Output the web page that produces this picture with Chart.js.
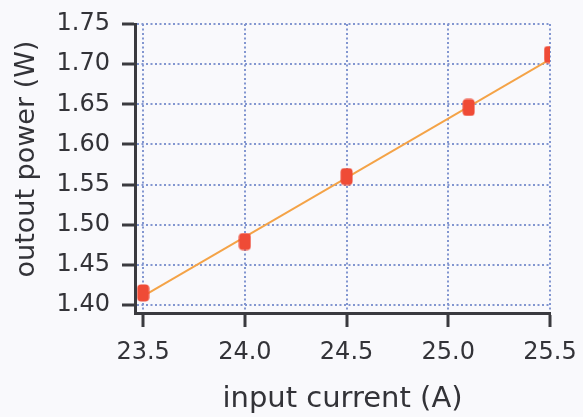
<!DOCTYPE html>
<html>
<head>
<meta charset="utf-8">
<script src="https://cdn.jsdelivr.net/npm/chart.js@4.4.1/dist/chart.umd.min.js"></script>
<style>
  html, body { margin: 0; padding: 0; background: #f9f9fc; }
  #wrap { width: 583px; height: 417px; }
</style>
</head>
<body>
<div id="wrap"><canvas id="myChart"></canvas></div>
<script>
// measured points
const current = [23.5, 24.0, 24.5, 25.1, 25.5];
const power = [1.415, 1.479, 1.560, 1.646, 1.712];

// linear fit drawn through the points
const fitCurrent = [23.5, 25.5];
const fitPower = [1.411, 1.706];

// tick labels
const xTicks = [23.5, 24.0, 24.5, 25.0, 25.5];
const yTicks = [1.40, 1.45, 1.50, 1.55, 1.60, 1.65, 1.70, 1.75];

const textColor = '#333338';
const axisColor = '#3a3a3f';
const gridColor = '#8296d0';

// marker: small rounded red block
const marker = document.createElement('canvas');
marker.width = 13;
marker.height = 18;
const mctx = marker.getContext('2d');
mctx.fillStyle = '#ef4b36';
mctx.beginPath();
mctx.roundRect(0.5, 0.5, 12, 17, 4);
mctx.fill();

// y title drawn a bit above the axis centre, like the original
const yTitle = {
  id: 'yTitle',
  afterDraw(chart) {
    const ctx = chart.ctx;
    ctx.save();
    ctx.translate(27, 159);
    ctx.rotate(-Math.PI / 2);
    ctx.fillStyle = textColor;
    ctx.font = '27px "DejaVu Sans"';
    ctx.textAlign = 'center';
    ctx.textBaseline = 'middle';
    ctx.fillText('outout power (W)', 0, 0);
    ctx.restore();
  }
};

const data = {
  datasets: [{
    label: 'measured',
    data: current.map((x, i) => ({x: x, y: power[i]})),
    pointStyle: marker,
    showLine: false,
    order: 0
  }, {
    label: 'fit',
    data: fitCurrent.map((x, i) => ({x: x, y: fitPower[i]})),
    showLine: true,
    borderColor: '#f4a347',
    borderWidth: 2,
    pointRadius: 0,
    order: 1
  }]
};

const config = {
  type: 'scatter',
  data: data,
  plugins: [yTitle],
  options: {
    responsive: true,
    maintainAspectRatio: false,
    animation: false,
    layout: { padding: { top: 24, right: 33, left: 0, bottom: 0 } },
    plugins: {
      legend: { display: false },
      tooltip: { enabled: false }
    },
    scales: {
      x: {
        type: 'linear',
        min: 23.46,
        max: 25.5,
        afterBuildTicks: s => { s.ticks = xTicks.map(v => ({value: v})); },
        afterFit: s => { s.height = 104; s.paddingLeft = 0; s.paddingRight = 0; },
        border: { display: true, color: axisColor, width: 3, dash: [2, 2.5] },
        grid: {
          color: gridColor, lineWidth: 2,
          drawTicks: true, tickLength: 14, tickColor: axisColor, tickWidth: 3
        },
        ticks: {
          color: textColor, padding: 11,
          font: { family: 'DejaVu Sans', size: 24 },
          callback: v => Number(v).toFixed(1)
        },
        title: {
          display: true, text: 'input current (A)', color: textColor,
          font: { family: 'DejaVu Sans', size: 29 },
          padding: { top: 0, bottom: 0 }
        }
      },
      y: {
        type: 'linear',
        min: 1.39,
        max: 1.75,
        afterBuildTicks: s => { s.ticks = yTicks.map(v => ({value: v})); },
        afterFit: s => { s.width = 135; s.paddingTop = 0; s.paddingBottom = 0; },
        border: { display: true, color: axisColor, width: 3, dash: [2, 2.5] },
        grid: {
          color: gridColor, lineWidth: 2,
          drawTicks: true, tickLength: 13, tickColor: axisColor, tickWidth: 3
        },
        ticks: {
          color: textColor, padding: 12,
          font: { family: 'DejaVu Sans', size: 24 },
          callback: v => Number(v).toFixed(2)
        },
        title: { display: false }
      }
    }
  }
};

const myChart = new Chart(document.getElementById('myChart').getContext('2d'), config);
</script>
</body>
</html>
